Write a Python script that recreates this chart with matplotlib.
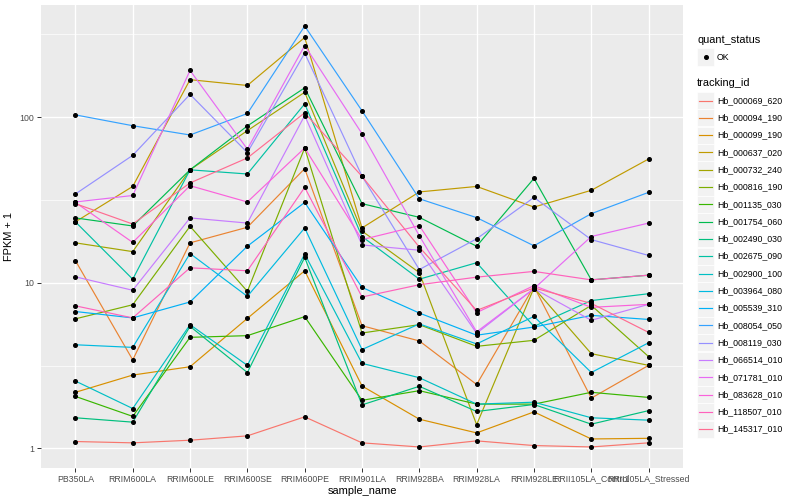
import matplotlib
matplotlib.use("Agg")
import matplotlib.pyplot as plt
from matplotlib.lines import Line2D
from matplotlib.patches import Rectangle
import numpy as np

plt.rcParams['font.family'] = ['Liberation Sans', 'DejaVu Sans']

samples = ["PB350LA", "RRIM600LA", "RRIM600LE", "RRIM600SE", "RRIM600PE",
           "RRIM901LA", "RRIM928BA", "RRIM928LA", "RRIM928LE",
           "RRII105LA_Control", "RRII105LA_Stressed"]

tracking_ids = ["Hb_000069_620", "Hb_000094_190", "Hb_000099_190", "Hb_000637_020",
                "Hb_000732_240", "Hb_000816_190", "Hb_001135_030", "Hb_001754_060",
                "Hb_002490_030", "Hb_002675_090", "Hb_002900_100", "Hb_003964_080",
                "Hb_005539_310", "Hb_008054_050", "Hb_008119_030", "Hb_066514_010",
                "Hb_071781_010", "Hb_083628_010", "Hb_118507_010", "Hb_145317_010"]

# FPKM + 1, one list per gene, in sample order
hb_000069_620 = [1.10, 1.08, 1.12, 1.19, 1.55, 1.08, 1.02, 1.11, 1.04, 1.02, 1.08]
hb_000094_190 = [13.6, 3.42, 17.4, 21.6, 48.8, 5.5, 4.45, 2.43, 9.5, 2.01, 3.17]
hb_000099_190 = [2.18, 2.77, 3.11, 6.09, 11.8, 2.38, 1.50, 1.24, 1.66, 1.14, 1.15]
hb_000637_020 = [23.3, 38.1, 168, 155, 302, 21.4, 35.3, 38.1, 28.6, 36.1, 55.8]
hb_000732_240 = [17.4, 15.4, 48, 82.7, 141, 20.5, 11.5, 1.39, 9.3, 3.73, 3.17]
hb_000816_190 = [6.05, 7.36, 21.9, 8.87, 65, 4.97, 5.58, 4.13, 4.49, 7.3, 3.58]
hb_001135_030 = [2.06, 1.56, 4.68, 4.79, 6.24, 1.95, 2.23, 1.85, 1.85, 2.18, 2.03]
hb_001754_060 = [24.6, 22.0, 48, 88.3, 150, 30, 24.8, 16.6, 42.6, 10.4, 11.1]
hb_002490_030 = [1.53, 1.44, 5.45, 2.87, 14.2, 1.83, 2.37, 1.67, 1.84, 1.40, 1.69]
hb_002675_090 = [23.3, 10.5, 48, 45.3, 120, 19, 10.5, 13.2, 5.45, 7.8, 8.58]
hb_002900_100 = [2.55, 1.74, 5.58, 3.17, 14.9, 3.26, 2.67, 1.85, 1.9, 1.53, 1.48]
hb_003964_080 = [4.22, 4.07, 15, 8.27, 21.4, 3.95, 5.64, 4.27, 6.26, 2.87, 4.34]
hb_005539_310 = [6.7, 6.13, 7.65, 16.6, 30.5, 9.37, 6.56, 4.82, 5.4, 6.35, 6.0]
hb_008054_050 = [103, 88.6, 77.9, 105, 354, 109, 32.1, 24.7, 16.7, 26.1, 35.1]
hb_008119_030 = [34.3, 58.7, 137, 61, 243, 44, 12.0, 18.4, 32.7, 18.2, 14.6]
hb_066514_010 = [10.85, 9.0, 24.6, 22.9, 102, 16.9, 15.7, 4.95, 9.2, 5.93, 7.4]
hb_071781_010 = [30.7, 33.6, 191, 64, 270, 79.3, 19.2, 5.05, 9.2, 19, 22.9]
hb_083628_010 = [30.5, 17.5, 38.5, 30.7, 65, 18.2, 22.1, 6.6, 9.6, 7.1, 7.4]
hb_118507_010 = [7.25, 6.13, 12.3, 11.8, 37.6, 8.2, 9.72, 10.8, 11.7, 10.4, 11.1]
hb_145317_010 = [30, 22.6, 40, 56.6, 106, 43.8, 16.4, 6.8, 9.3, 7.5, 5.01]

series = [hb_000069_620, hb_000094_190, hb_000099_190, hb_000637_020, hb_000732_240,
          hb_000816_190, hb_001135_030, hb_001754_060, hb_002490_030, hb_002675_090,
          hb_002900_100, hb_003964_080, hb_005539_310, hb_008054_050, hb_008119_030,
          hb_066514_010, hb_071781_010, hb_083628_010, hb_118507_010, hb_145317_010]

# ggplot2 default hue palette for 20 levels
colors = ["#F8766D", "#EA8331", "#D89000", "#C09B00", "#A3A500", "#7CAE00", "#39B600",
          "#00BB4E", "#00BF7D", "#00C1A3", "#00BFC4", "#00BAE0", "#00B0F6", "#35A2FF",
          "#9590FF", "#C77CFF", "#E76BF3", "#FA62DB", "#FF62BC", "#FF6C91"]

W, H = 800, 500
fig = plt.figure(figsize=(8, 5), dpi=100)
px = 72 / 100  # ggplot sizes are in px at 72 dpi

left, right, top, bottom = 41, 683, 5, 468
ax = fig.add_axes([left / W, 1 - bottom / H, (right - left) / W, (bottom - top) / H])
ax.set_facecolor("#EBEBEB")
for s in ax.spines.values():
    s.set_visible(False)

x = np.arange(len(samples))
for vals, c in zip(series, colors):
    ax.plot(x, vals, color=c, lw=0.85, zorder=3)
    ax.plot(x, vals, ls="none", marker="o", ms=2.6, color="black", zorder=4)

ax.set_yscale("log")
allv = np.log10(np.concatenate([np.array(v) for v in series]))
lo, hi = allv.min(), allv.max()
pad = (hi - lo) * 0.05
ax.set_ylim(10 ** (lo - pad), 10 ** (hi + pad))
ax.set_xlim(-0.6, len(samples) - 0.4)

ax.set_yticks([1, 10, 100])
ax.set_yticklabels(["1", "10", "100"])
ax.yaxis.set_minor_locator(matplotlib.ticker.FixedLocator([10 ** 0.5, 10 ** 1.5, 10 ** 2.5]))
ax.yaxis.set_minor_formatter(matplotlib.ticker.NullFormatter())
ax.set_xticks(x)
ax.set_xticklabels(samples)

ax.grid(which="major", color="white", lw=1.0)
ax.grid(which="minor", axis="y", color="white", lw=0.5)
ax.set_axisbelow(True)
ax.tick_params(axis="both", which="major", length=2.75 * px * 1.4, width=0.7,
               color="#333333", labelcolor="#4D4D4D", labelsize=8.8 * px, pad=2)
ax.tick_params(axis="y", which="minor", length=0)

ax.set_xlabel("sample_name", fontsize=11 * px, labelpad=2)
ax.set_ylabel("FPKM + 1", fontsize=11 * px, labelpad=4)

# legend drawn by hand, ggplot style
def fx(p):
    return p / W

def fy(p):
    return 1 - p / H

lx = 697
key = 17
fig.text(fx(lx), fy(40), "quant_status", fontsize=11 * px, va="center")
fig.add_artist(Rectangle((fx(lx), fy(57 + key / 2)), key / W, key / H,
                         facecolor="#F2F2F2", edgecolor="white", lw=0.5))
fig.add_artist(Line2D([fx(lx + key / 2)], [fy(57)], marker="o", ms=2.6,
                      color="black", ls="none"))
fig.text(fx(717), fy(57), "OK", fontsize=8.8 * px, va="center")

fig.text(fx(lx), fy(83), "tracking_id", fontsize=11 * px, va="center")
for i, (tid, c) in enumerate(zip(tracking_ids, colors)):
    yc = 100.5 + i * 17.3
    fig.add_artist(Rectangle((fx(lx), fy(yc + key / 2)), key / W, key / H,
                             facecolor="#F2F2F2", edgecolor="white", lw=0.5))
    fig.add_artist(Line2D([fx(lx + 2), fx(lx + key - 2)], [fy(yc), fy(yc)],
                          color=c, lw=0.85))
    fig.text(fx(717), fy(yc), tid, fontsize=8.8 * px, va="center")

fig.savefig("out.png", dpi=100)
